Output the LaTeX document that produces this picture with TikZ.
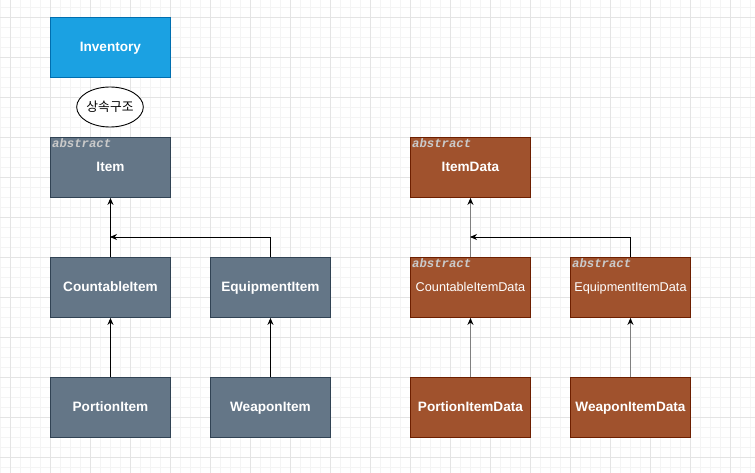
\documentclass[tikz,border=0pt]{standalone}
\usepackage{fontspec}
\setmainfont{Liberation Sans}
\setmonofont{Liberation Mono}
\newfontfamily\krfont{Noto Sans CJK KR}
\usetikzlibrary{arrows.meta,shapes.geometric}
\definecolor{gridminor}{HTML}{F4F4F4}
\definecolor{gridmajor}{HTML}{E4E4E4}
\definecolor{invfill}{HTML}{1BA1E2}
\definecolor{invline}{HTML}{006EAF}
\definecolor{grayfill}{HTML}{647687}
\definecolor{grayline}{HTML}{314354}
\definecolor{brownfill}{HTML}{A0522D}
\definecolor{brownline}{HTML}{6D1F00}
\definecolor{abstxt}{HTML}{CACACA}
\definecolor{connGray}{HTML}{808080}
\begin{document}
\begin{tikzpicture}[x=1pt,y=-1pt,
  box/.style={draw, line width=0.9pt, minimum width=120pt, minimum height=60pt, inner sep=0pt, anchor=north west, text=white, text height=9.5pt, text depth=0.5pt, font=\bfseries\fontsize{13.6}{15}\selectfont},
  invbox/.style={box, fill=invfill, draw=invline},
  graybox/.style={box, fill=grayfill, draw=grayline},
  brownbox/.style={box, fill=brownfill, draw=brownline},
  datalbl/.style={font=\fontsize{12.7}{14}\selectfont},
  abslbl/.style={anchor=north west, inner sep=0pt, text=abstxt, font=\ttfamily\bfseries\itshape\fontsize{12.3}{12}\selectfont},
  conn/.style={line width=0.9pt, -{Stealth[length=7pt,width=6pt]}},
  conngray/.style={line width=1.4pt, draw=connGray, -{Stealth[length=7pt,width=6pt,fill=black,color=black]}}
]
\useasboundingbox (0,0) rectangle (755,473);
\fill[white] (0,0) rectangle (755,473);
\foreach \x in {0,10,...,750} \draw[gridminor, line width=0.8pt] (\x,0) -- (\x,473);
\foreach \y in {7,17,...,467} \draw[gridminor, line width=0.8pt] (0,\y) -- (755,\y);
\foreach \x in {10,50,...,730} \draw[gridmajor, line width=0.8pt] (\x,0) -- (\x,473);
\foreach \y in {17,57,...,457} \draw[gridmajor, line width=0.8pt] (0,\y) -- (755,\y);

\node[invbox] (inv) at (50,17) {Inventory};
\node[draw, fill=white, ellipse, minimum width=60pt, minimum height=40pt, inner sep=0pt, line width=0.9pt, font=\krfont\fontsize{12.8}{14}\selectfont] (inh) at (110,107) {상속구조};

\node[graybox] (item) at (50,137) {Item};
\node[abslbl] (itemabs) at (52,138.5) {abstract};
\node[graybox] (cnt) at (50,257) {CountableItem};
\node[graybox] (eqp) at (210,257) {EquipmentItem};
\node[graybox] (por) at (50,377) {PortionItem};
\node[graybox] (wpn) at (210,377) {WeaponItem};

\node[brownbox] (idata) at (410,137) {ItemData};
\node[abslbl] (idataabs) at (412,138.5) {abstract};
\node[brownbox, datalbl] (cdata) at (410,257) {CountableItemData};
\node[abslbl] (cdataabs) at (412,258.5) {abstract};
\node[brownbox, datalbl] (edata) at (570,257) {EquipmentItemData};
\node[abslbl] (edataabs) at (572,258.5) {abstract};
\node[brownbox] (pdata) at (410,377) {PortionItemData};
\node[brownbox] (wdata) at (570,377) {WeaponItemData};

\coordinate (jl) at (110,237);
\coordinate (jr) at (470,237);

\draw[conn] (cnt.north) -- (item.south);
\draw[conn] (eqp.north) |- (jl);
\draw[conn] (por.north) -- (cnt.south);
\draw[conn] (wpn.north) -- (eqp.south);

\draw[conngray] (cdata.north) -- (idata.south);
\draw[conn] (edata.north) |- (jr);
\draw[conngray] (pdata.north) -- (cdata.south);
\draw[conngray] (wdata.north) -- (edata.south);
\end{tikzpicture}
\end{document}
